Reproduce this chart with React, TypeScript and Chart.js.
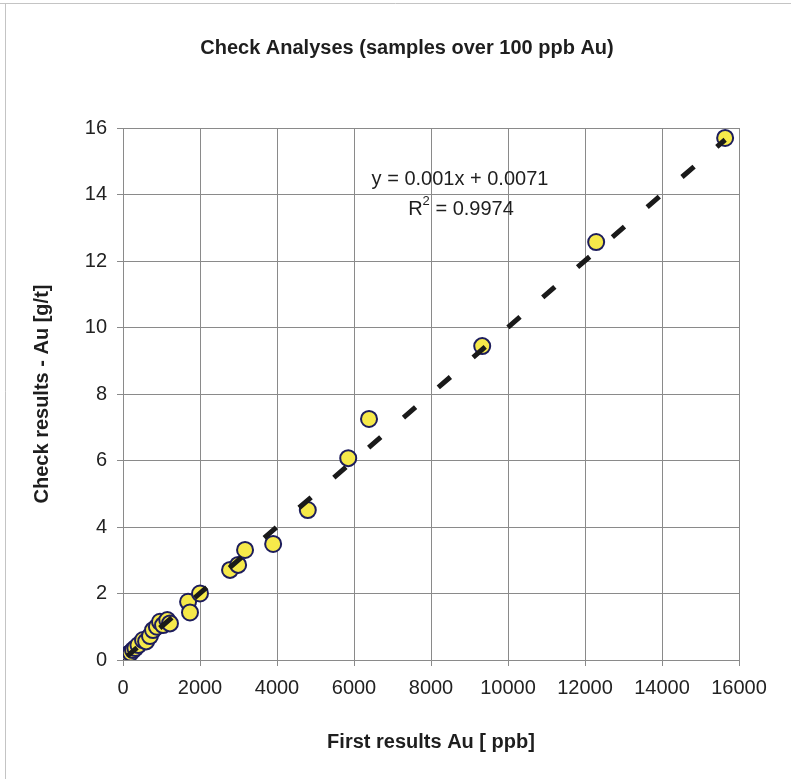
import React, { useEffect, useRef } from 'react';
import { Chart, registerables } from 'chart.js';

Chart.register(...registerables);

// First results (ppb Au) and check results (g/t Au)
const firstResultsPpb = [110, 150, 200, 260, 320, 400, 520, 600, 700, 780, 880, 960, 1040, 1150, 1220, 1690, 1740, 2000, 2780, 2990, 3170, 3900, 4800, 5850, 6390, 9330, 12290, 15640];
const checkResultsGt = [0.12, 0.18, 0.22, 0.3, 0.36, 0.45, 0.6, 0.56, 0.72, 0.9, 1.0, 1.15, 1.05, 1.2, 1.1, 1.75, 1.43, 2.0, 2.71, 2.86, 3.31, 3.49, 4.51, 6.07, 7.25, 9.44, 12.57, 15.7];

const xTickValues = [0, 2000, 4000, 6000, 8000, 10000, 12000, 14000, 16000];
const yTickValues = [0, 2, 4, 6, 8, 10, 12, 14, 16];

// Trendline from the chart's label
const trendSlope = 0.001;
const trendIntercept = 0.0071;
const rSquaredText = '0.9974';
const equationText = 'y = 0.001x + 0.0071';

const chartTitle = 'Check Analyses (samples over 100 ppb Au)';
const xAxisTitle = 'First results Au [ ppb]';
const yAxisTitle = 'Check results - Au [g/t]';

const FONT = '"Liberation Sans", Arial, sans-serif';

export default function App() {
  const canvasRef = useRef<HTMLCanvasElement | null>(null);

  useEffect(() => {
    const canvas = canvasRef.current;
    if (!canvas) return;

    const points = firstResultsPpb.map((x, i) => ({ x, y: checkResultsGt[i] }));
    const xMin = Math.min(...firstResultsPpb);
    const xMax = Math.max(...firstResultsPpb);
    const trend = [
      { x: xMin, y: trendSlope * xMin + trendIntercept },
      { x: xMax, y: trendSlope * xMax + trendIntercept },
    ];

    const textPlugin = {
      id: 'texts',
      afterDraw(chart: any) {
        const ctx = chart.ctx as CanvasRenderingContext2D;
        const xs = chart.scales.x;
        const ys = chart.scales.y;
        ctx.save();
        // outer frame (scan border)
        ctx.strokeStyle = '#c4c4c4';
        ctx.lineWidth = 1;
        ctx.beginPath();
        ctx.moveTo(0, 3.5);
        ctx.lineTo(791, 3.5);
        ctx.moveTo(5.5, 3.5);
        ctx.lineTo(5.5, 779);
        ctx.stroke();

        ctx.fillStyle = '#1e1e1e';
        ctx.textBaseline = 'middle';
        ctx.textAlign = 'center';
        ctx.font = `bold 20px ${FONT}`;
        ctx.fillText(chartTitle, 407, 48);

        ctx.font = `bold 20px ${FONT}`;
        ctx.fillText(xAxisTitle, (xs.left + xs.right) / 2, 742);

        ctx.save();
        ctx.translate(42, (ys.top + ys.bottom) / 2);
        ctx.rotate(-Math.PI / 2);
        ctx.fillText(yAxisTitle, 0, 0);
        ctx.restore();

        // equation and R²
        ctx.font = `20px ${FONT}`;
        ctx.fillText(equationText, 460, 179);
        const rMain = 'R';
        const rRest = ' = ' + rSquaredText;
        ctx.font = `20px ${FONT}`;
        const wR = ctx.measureText(rMain).width;
        const wRest = ctx.measureText(rRest).width;
        ctx.font = `13px ${FONT}`;
        const wSup = ctx.measureText('2').width;
        const total = wR + wSup + wRest;
        let x0 = 461 - total / 2;
        ctx.textAlign = 'left';
        ctx.font = `20px ${FONT}`;
        ctx.fillText(rMain, x0, 209);
        ctx.font = `13px ${FONT}`;
        ctx.fillText('2', x0 + wR, 201);
        ctx.font = `20px ${FONT}`;
        ctx.fillText(rRest, x0 + wR + wSup, 209);
        ctx.restore();
      },
    };

    const chart = new Chart(canvas, {
      type: 'scatter',
      data: {
        datasets: [
          {
            type: 'line',
            label: 'Trend',
            data: trend,
            borderColor: '#1a1a1a',
            borderWidth: 5,
            borderDash: [16, 30],
            borderDashOffset: 3,
            borderCapStyle: 'butt',
            pointRadius: 0,
            fill: false,
            order: 0,
          } as any,
          {
            label: 'Check',
            data: points,
            backgroundColor: '#f6e94a',
            borderColor: '#1d1d5c',
            borderWidth: 2,
            pointRadius: 8,
            order: 1,
          },
        ],
      },
      options: {
        responsive: false,
        animation: false,
        devicePixelRatio: 1,
        layout: { padding: { left: 0, top: 128, right: 52, bottom: 0 } },
        plugins: {
          legend: { display: false },
          title: { display: false },
          tooltip: { enabled: false },
        },
        scales: {
          x: {
            type: 'linear',
            min: xTickValues[0],
            max: xTickValues[xTickValues.length - 1],
            afterBuildTicks: (scale: any) => {
              scale.ticks = xTickValues.map((v) => ({ value: v }));
            },
            afterFit: (scale: any) => {
              scale.height = 119;
            },
            ticks: {
              color: '#222',
              font: { family: FONT, size: 20 },
              padding: 10,
              maxRotation: 0,
              autoSkip: false,
              callback: (v: any) => String(v),
            },
            grid: { color: '#8a8a8a', lineWidth: 1, tickLength: 6, drawTicks: true },
            border: { display: true, color: '#8a8a8a', width: 1 },
          },
          y: {
            type: 'linear',
            min: yTickValues[0],
            max: yTickValues[yTickValues.length - 1],
            afterBuildTicks: (scale: any) => {
              scale.ticks = yTickValues.map((v) => ({ value: v }));
            },
            afterFit: (scale: any) => {
              scale.width = 123;
            },
            ticks: {
              color: '#222',
              font: { family: FONT, size: 20 },
              padding: 10,
              autoSkip: false,
              callback: (v: any) => String(v),
            },
            grid: { color: '#8a8a8a', lineWidth: 1, tickLength: 6, drawTicks: true },
            border: { display: true, color: '#8a8a8a', width: 1 },
          },
        },
      },
      plugins: [textPlugin],
    } as any);

    return () => chart.destroy();
  }, []);

  return (
    <div style={{ position: 'fixed', left: 0, top: 0, width: 791, height: 779, background: '#ffffff' }}>
      <canvas ref={canvasRef} width={791} height={779} style={{ display: 'block', width: 791, height: 779 }} />
    </div>
  );
}
